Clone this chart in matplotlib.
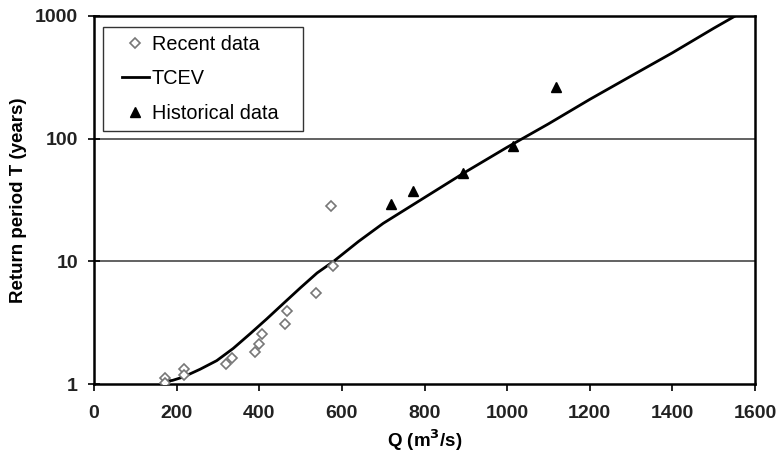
import matplotlib.pyplot as plt
from matplotlib.lines import Line2D
from matplotlib.legend_handler import HandlerLine2D

plt.rcParams['font.family'] = ['Liberation Sans', 'DejaVu Sans']

# recent data (diamonds)
recent_q = [172, 172, 218, 218, 320, 333, 390, 400, 406, 462, 466, 537, 578, 574]
recent_t = [1.11, 1.01, 1.32, 1.18, 1.46, 1.62, 1.83, 2.12, 2.54, 3.08, 3.94, 5.55, 9.2, 28.0]

# historical data (triangles)
hist_q = [719, 771, 894, 1014, 1118]
hist_t = [29.3, 37.6, 52.7, 87.0, 264.0]

# TCEV fitted curve
tcev_q = [172, 190, 216, 257, 297, 337, 378, 418, 458, 500, 540, 580, 640, 700,
          800, 900, 1000, 1100, 1200, 1300, 1400, 1500, 1552]
tcev_t = [1.05, 1.07, 1.14, 1.32, 1.55, 1.95, 2.57, 3.39, 4.52, 6.10, 8.04, 10.0,
          14.5, 20.4, 33.1, 53.7, 85.1, 132, 209, 324, 501, 794, 1000]

fig = plt.figure(figsize=(7.8, 4.61), dpi=100)
ax = fig.add_axes([94 / 780, 77 / 461, 661 / 780, 368 / 461])

for y in [10, 100]:
    ax.axhline(y, color='#555555', lw=1.3, zorder=1)

ax.plot(recent_q, recent_t, linestyle='none', marker='D', markersize=4.8,
        markerfacecolor='white', markeredgecolor='#777777', markeredgewidth=1.2,
        label='Recent data', zorder=3)
ax.plot(tcev_q, tcev_t, color='black', lw=2.0, label='TCEV', zorder=2)
ax.plot(hist_q, hist_t, linestyle='none', marker='^', markersize=6.5,
        color='black', label='Historical data   ', zorder=4)

ax.set_yscale('log')
ax.set_xlim(0, 1600)
ax.set_ylim(1, 1000)
ax.set_xticks(range(0, 1601, 200))
ax.set_yticks([1, 10, 100, 1000])
ax.set_yticklabels(['1', '10', '100', '1000'])
ax.minorticks_off()

for s in ax.spines.values():
    s.set_linewidth(1.8)
    s.set_color('black')

ax.tick_params(axis='x', direction='out', length=5, width=1.2, pad=10, labelsize=14)
ax.tick_params(axis='y', direction='inout', length=9, width=1.2, pad=7, labelsize=14)
for lab in ax.get_xticklabels() + ax.get_yticklabels():
    lab.set_fontweight('bold')
    lab.set_color('#222222')

ax.set_xlabel('Q (m$^\\mathbf{3}$/s)', fontsize=13.5, fontweight='bold')
ax.set_ylabel('Return period T (years)', fontsize=13.5, fontweight='bold')
ax.xaxis.set_label_coords(0.5, -0.118)
ax.yaxis.set_label_coords(-0.101, 0.5)

leg = ax.legend(loc='upper left', bbox_to_anchor=(103 / 780, 1 - 27 / 461),
                bbox_transform=fig.transFigure, fontsize=14.3, frameon=True,
                fancybox=False, edgecolor='black', labelspacing=0.78,
                handlelength=1.9, handletextpad=0.15, borderpad=0.4,
                borderaxespad=0,
                handler_map={Line2D: HandlerLine2D(xpad=0.55)})
leg.get_frame().set_linewidth(1.0)

fig.savefig('out.png', dpi=100)
